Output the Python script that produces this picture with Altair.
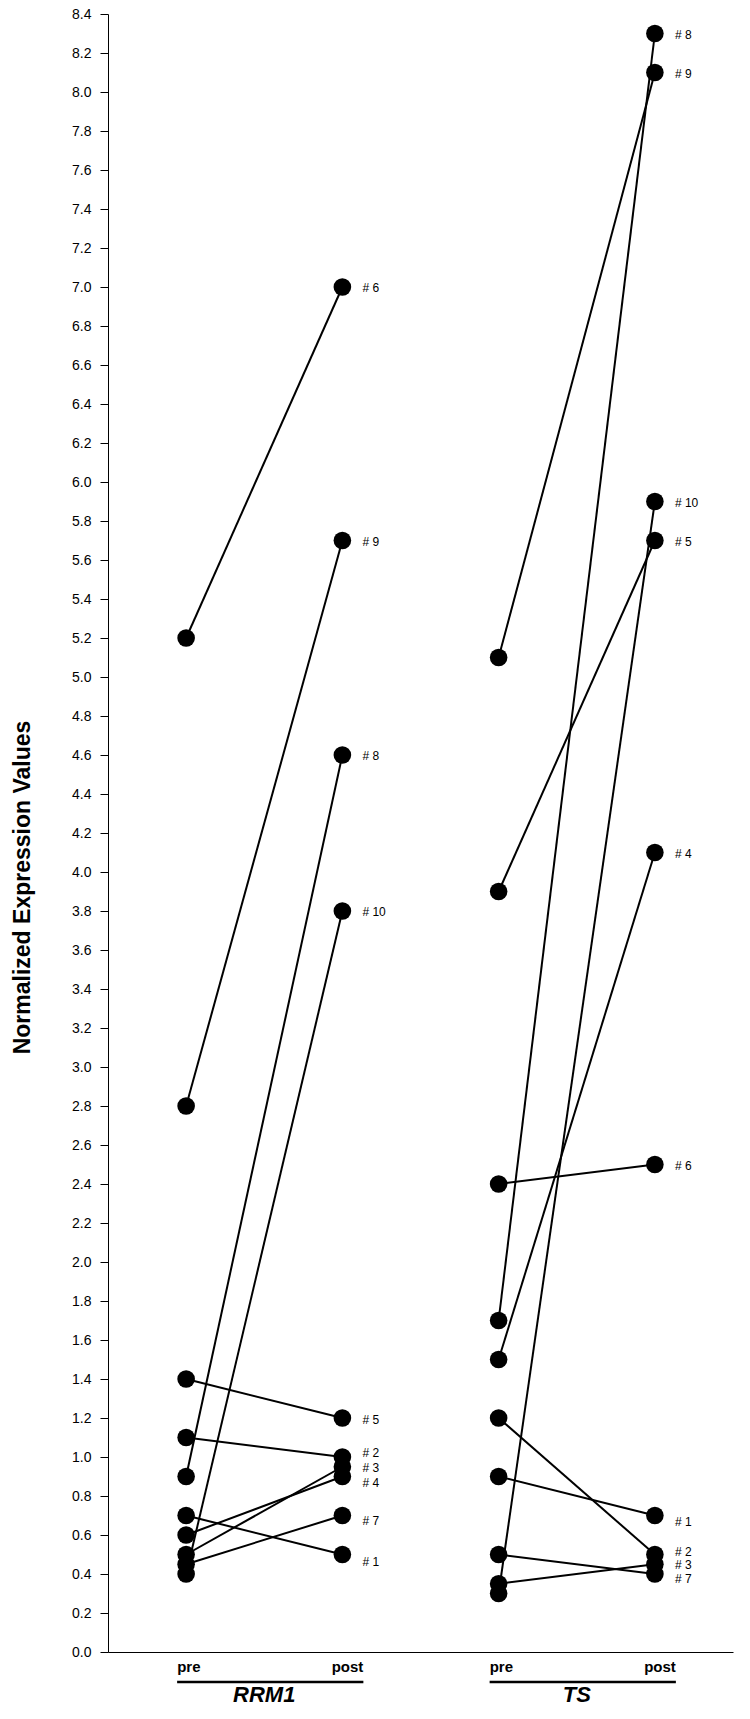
import altair as alt
import pandas as pd

# ---- data ----
patients = ["# 1", "# 2", "# 3", "# 4", "# 5", "# 6", "# 7", "# 8", "# 9", "# 10"]
rrm1_pre = [0.7, 1.1, 0.5, 0.6, 1.4, 5.2, 0.45, 0.9, 2.8, 0.4]
rrm1_post = [0.5, 1.0, 0.95, 0.9, 1.2, 7.0, 0.7, 4.6, 5.7, 3.8]
ts_pre = [0.9, 1.2, 0.35, 1.5, 3.9, 2.4, 0.5, 1.7, 5.1, 0.3]
ts_post = [0.7, 0.5, 0.45, 4.1, 5.7, 2.5, 0.4, 8.3, 8.1, 5.9]
genes = ["RRM1", "TS"]
phases = ["pre", "post"]
y_ticks = [round(i * 0.2, 1) for i in range(43)]

# small vertical nudges (px) of the patient labels, to keep crowded labels apart
label_nudge = {
    ("RRM1", "# 2"): -4, ("RRM1", "# 4"): 6, ("RRM1", "# 7"): 5, ("RRM1", "# 1"): 7,
    ("RRM1", "# 5"): 2,
    ("TS", "# 1"): 6, ("TS", "# 2"): -3, ("TS", "# 7"): 5,
}

series = {"RRM1": (rrm1_pre, rrm1_post), "TS": (ts_pre, ts_post)}

rows = []
for gi, gene in enumerate(genes):
    pre, post = series[gene]
    for p, a, b in zip(patients, pre, post):
        nd = label_nudge.get((gene, p), 1)
        rows.append(dict(gene=gene, patient=p, key=gene + p, phase="pre", slot=gi * 2 + 1, value=a, ldy=nd))
        rows.append(dict(gene=gene, patient=p, key=gene + p, phase="post", slot=gi * 2 + 2, value=b, ldy=nd))
df = pd.DataFrame(rows)

phase_rows = []
for gi, gene in enumerate(genes):
    for pi, ph in enumerate(phases):
        phase_rows.append(dict(slot=gi * 2 + pi + 1, label=ph))
df_phase = pd.DataFrame(phase_rows)

df_gene = pd.DataFrame(
    [dict(gene=g, slot=gi * 2 + 1, slot_end=gi * 2 + 2, mid=gi * 2 + 1.5) for gi, g in enumerate(genes)]
)

FONT = "Liberation Sans"
H = 1638
W = 625

x_scale = alt.Scale(domain=[0.5, 4.5], nice=False, zero=False)
x_enc = alt.X(
    "slot:Q",
    scale=x_scale,
    axis=alt.Axis(labels=False, ticks=False, grid=False, title=None, domainColor="black", domainWidth=1),
)
y_enc = alt.Y(
    "value:Q",
    scale=alt.Scale(domain=[0, 8.4], nice=False, zero=False),
    axis=alt.Axis(
        values=y_ticks,
        format=".1f",
        tickSize=8,
        tickColor="black",
        domainColor="black",
        labelPadding=9,
        labelFontSize=14,
        labelFont=FONT,
        labelColor="black",
        labelOverlap=False,
        labelFlush=False,
        grid=False,
        title="Normalized Expression Values",
        titleFont=FONT,
        titleFontSize=23,
        titleFontWeight="bold",
        titleColor="black",
        titleX=-74,
        titleY=873,
        titleAngle=270,
        titleBaseline="bottom",
        titleAlign="center",
    ),
)

lines = alt.Chart(df).mark_line(color="black", strokeWidth=2).encode(
    x=x_enc, y=y_enc, detail="key:N", order="slot:Q"
)
points = alt.Chart(df).mark_circle(size=310, color="black", opacity=1).encode(x=x_enc, y=y_enc)

post_df = df[df.phase == "post"]
label_layers = []
for nd in sorted(post_df.ldy.unique()):
    sub = post_df[post_df.ldy == nd]
    label_layers.append(
        alt.Chart(sub).mark_text(
            align="left", baseline="middle", dx=20, dy=float(nd), fontSize=12, font=FONT, color="black"
        ).encode(x=x_enc, y=y_enc, text="patient:N")
    )

pre_txt = alt.Chart(df_phase[df_phase.label == "pre"]).mark_text(
    align="left", baseline="alphabetic", dx=-9, fontSize=15, fontWeight="bold", font=FONT, color="black"
).encode(x=x_enc, y=alt.value(H + 20), text="label:N")
post_txt = alt.Chart(df_phase[df_phase.label == "post"]).mark_text(
    align="right", baseline="alphabetic", dx=21, fontSize=15, fontWeight="bold", font=FONT, color="black"
).encode(x=x_enc, y=alt.value(H + 20), text="label:N")

underline = alt.Chart(df_gene).mark_rule(color="black", strokeWidth=2.5, xOffset=-9, x2Offset=21).encode(
    x=x_enc, x2="slot_end:Q", y=alt.value(H + 30)
)
gene_txt = alt.Chart(df_gene).mark_text(
    align="center", baseline="alphabetic", fontSize=22, fontWeight="bold", fontStyle="italic",
    font=FONT, color="black"
).encode(x=alt.X("mid:Q", scale=x_scale), y=alt.value(H + 50), text="gene:N")

chart = (
    alt.layer(lines, points, *label_layers, pre_txt, post_txt, underline, gene_txt)
    .properties(
        width=W,
        height=H,
        autosize=alt.AutoSizeParams(type="none"),
        padding={"left": 100, "top": 6, "right": 8, "bottom": 55},
    )
    .configure_view(stroke=None)
)

chart.save("out.html", embed_options={"renderer": "svg", "actions": False})
